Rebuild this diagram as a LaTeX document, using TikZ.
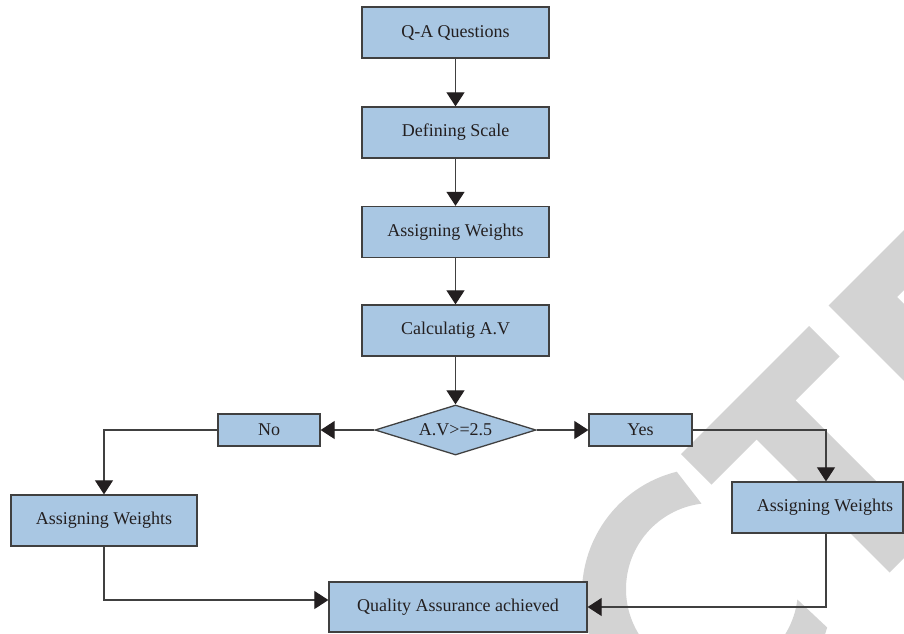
\documentclass[tikz,border=0pt]{standalone}
\usepackage{fontspec}
\setmainfont{Liberation Serif}
\usetikzlibrary{arrows.meta,shapes.geometric}
\definecolor{boxfill}{RGB}{169,199,227}
\definecolor{boxline}{RGB}{64,64,64}
\definecolor{ink}{RGB}{35,31,32}
\definecolor{stamp}{RGB}{211,211,211}
\begin{document}
\begin{tikzpicture}[x=1pt,y=-1pt,
  every node/.style={font=\fontsize{18}{20}\selectfont, text=ink},
  flowbox/.style={draw=boxline, fill=boxfill, line width=1.3pt, inner sep=0pt, minimum height=51pt},
  decision/.style={diamond, draw=boxline, fill=boxfill, line width=1.3pt, inner sep=0pt, aspect=3.22},
  link/.style={draw=boxline, line width=1.1pt},
  flow/.style={link, -{Triangle[length=14pt,width=18pt,color=ink]}}]
\useasboundingbox (0,0) rectangle (904,633);

% background stamp lettering
\begin{scope}
  \clip (0,0) rectangle (904,633);
  % C
  \fill[stamp] ([shift={(256:125)}]707,593) arc[start angle=256, end angle=16, radius=125]
    -- ([shift={(7:86)}]712,589) arc[start angle=7, end angle=263, radius=86] -- cycle;
  % T
  \fill[stamp] (681,454) -- (809,326) -- (839.5,356.5) -- (795.5,400.5) -- (928.5,533.5)
    -- (889.5,572.5) -- (756.5,439.5) -- (711.5,484.5) -- cycle;
  % E
  \fill[stamp] (828.5,305.5) -- (967,167) -- (997,197) -- (897,297) -- (1031,431)
    -- (992.5,469.5) -- cycle;
\end{scope}

% flow chart
\node[flowbox, minimum width=187pt] (qa) at (455.5,32.5) {Q-A Questions};
\node[flowbox, minimum width=187pt] (ds) at (455.5,132.5) {Defining Scale};
\node[flowbox, minimum width=187pt] (aw) at (455.5,232) {Assigning Weights};
\node[flowbox, minimum width=187pt] (cav) at (455.5,330.5) {Calculatig A.V};
\node[decision, minimum width=161pt, minimum height=50pt] (dec) at (455.5,430) {A.V>=2.5};
\node[flowbox, minimum width=102pt, minimum height=32pt] (no) at (269,430) {No};
\node[flowbox, minimum width=103pt, minimum height=32pt] (yes) at (640.5,430) {Yes};
\node[flowbox, minimum width=186pt] (awl) at (104,520.5) {Assigning Weights};
\node[flowbox, minimum width=171pt] (awr) at (817.5,507.5) {\hspace*{15pt}Assigning Weights};
\node[flowbox, minimum width=258pt, minimum height=50pt] (qaa) at (458,607) {Quality Assurance achieved};

\draw[flow] (qa) -- (ds);
\draw[flow] (ds) -- (aw);
\draw[flow] (aw) -- (cav);
\draw[flow] (cav) -- (dec);
\draw[flow] (dec.west) -- (no.east);
\draw[flow] (dec.east) -- (yes.west);
\draw[flow] (no.west) -| (awl.north);
\draw[flow] (yes.east) -| ([xshift=8.5pt]awr.north);
\draw[flow] (awl.south) |- ([yshift=7pt]qaa.west);
\draw[flow] ([xshift=8.5pt]awr.south) |- (qaa.east);
\end{tikzpicture}
\end{document}
